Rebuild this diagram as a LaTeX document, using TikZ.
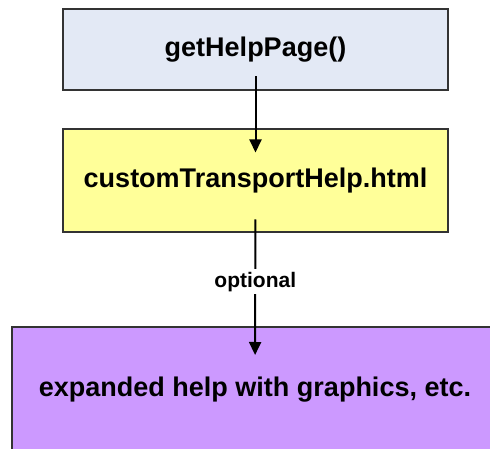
\documentclass[tikz,border=0pt]{standalone}
\usepackage{fontspec}
\setmainfont{Liberation Sans}
\usetikzlibrary{arrows.meta}

\definecolor{callblue}{RGB}{227,233,245}
\definecolor{pageyellow}{RGB}{255,255,153}
\definecolor{extrapurple}{RGB}{204,153,255}
\definecolor{boxedge}{RGB}{51,51,51}

\tikzset{
  box/.style={draw=boxedge, line width=1.5pt, inner sep=0pt,
    font=\fontsize{27}{32}\selectfont\bfseries},
  flow/.style={line width=2pt, -{Triangle[length=13pt,width=12pt]}},
}

\begin{document}
\begin{tikzpicture}[x=1pt,y=-1pt]
    \useasboundingbox (0,0) rectangle (490,449);
    \clip (0,0) rectangle (490,449);

    % Boxes
    \node[box, fill=callblue, minimum width=385pt, minimum height=81pt] (helppage) at (255.5,49.5) {getHelpPage()};
    \node[box, fill=pageyellow, minimum width=385pt, minimum height=103pt] (transport) at (255.5,180.5) {customTransportHelp.html};
    \node[box, fill=extrapurple, minimum width=486pt, minimum height=126pt] (expanded) at (255,390) {expanded help with graphics, etc.};

    % Arrows
    \draw[flow, shorten <=27pt, shorten >=28pt] (helppage.center) -- (transport.center);
    \draw[flow, shorten <=39pt, shorten >=35pt] (transport.center) -- node[pos=0.483, fill=white, inner sep=3pt, font=\fontsize{21}{25}\selectfont\bfseries] (optlabel) {optional} (expanded.center);
\end{tikzpicture}
\end{document}
